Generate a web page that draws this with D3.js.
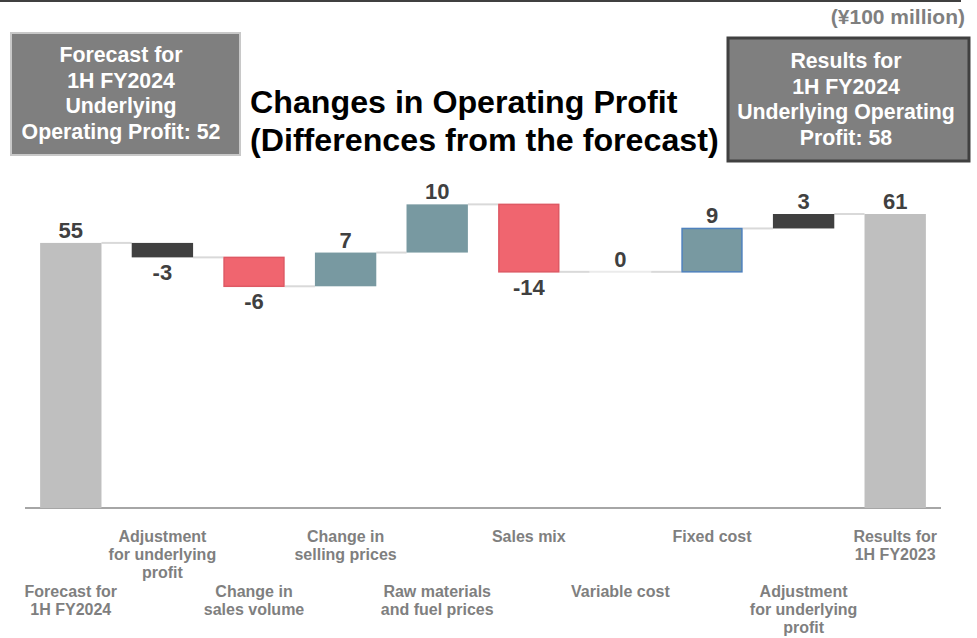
<!DOCTYPE html>
<html>
<head>
<meta charset="utf-8">
<script src="https://cdn.jsdelivr.net/npm/d3@7"></script>
<style>
    body { margin: 0; background: #fff; }
    text { font-family: "Liberation Sans", Arial, sans-serif; font-weight: bold; }
</style>
</head>
<body>
<svg id="scene" width="977" height="638"></svg>
<script>
// Waterfall data (¥100 million)
const categories = [
    ["Forecast for", "1H FY2024"],
    ["Adjustment", "for underlying", "profit"],
    ["Change in", "sales volume"],
    ["Change in", "selling prices"],
    ["Raw materials", "and fuel prices"],
    ["Sales mix"],
    ["Variable cost"],
    ["Fixed cost"],
    ["Adjustment", "for underlying", "profit"],
    ["Results for", "1H FY2023"]
];
const values = [55, -3, -6, 7, 10, -14, 0, 9, 3, 61];
const kinds = ["total", "adjust", "down", "up", "up", "down", "up", "upOutlined", "adjust", "total"];

const leftBoxLines = ["Forecast for", "1H FY2024", "Underlying", "Operating Profit: 52"];
const rightBoxLines = ["Results for", "1H FY2024", "Underlying Operating", "Profit: 58"];
const titleLines = ["Changes in Operating Profit", "(Differences from the forecast)"];
const unitLabel = "(¥100 million)";

const fills = { total: "#bfbfbf", adjust: "#404040", down: "#f0656f", up: "#7899a1", upOutlined: "#7899a1" };
const strokes = { total: "none", adjust: "none", down: "#de5964", up: "none", upOutlined: "#4f81bd" };

const svg = d3.select("#scene");

// build the running totals
let run = 0;
const bars = values.map((v, i) => {
    let d;
    if (kinds[i] === "total") {
        d = { i: i, y0: 0, y1: v, end: v };
        run = v;
    } else {
        d = { i: i, y0: run, y1: run + v, end: run + v };
        run += v;
    }
    d.value = v;
    d.kind = kinds[i];
    return d;
});

const x = d3.scaleBand()
    .domain(d3.range(values.length))
    .range([25, 941])
    .paddingInner(0.33)
    .paddingOuter(0.165);

const y = d3.scaleLinear().domain([0, 61]).range([508, 214]);

// top rule
svg.append("line")
    .attr("x1", 0).attr("x2", 961)
    .attr("y1", 1).attr("y2", 1)
    .style("stroke", "#404040").style("stroke-width", 2);

// unit
svg.append("text")
    .attr("x", 965).attr("y", 24)
    .attr("text-anchor", "end")
    .style("font-size", "21px")
    .style("fill", "#7f7f7f")
    .text(unitLabel);

// side boxes
function drawBox(x0, y0, w, h, stroke, sw, lines, cx, base) {
    svg.append("rect")
        .attr("x", x0).attr("y", y0).attr("width", w).attr("height", h)
        .style("fill", "#7f7f7f").style("stroke", stroke).style("stroke-width", sw);
    svg.append("g").selectAll("text")
        .data(lines)
        .enter()
        .append("text")
        .attr("x", cx)
        .attr("y", (d, i) => base + i * 25.5)
        .attr("text-anchor", "middle")
        .style("font-size", "21.3px")
        .style("fill", "#ffffff")
        .text((d) => d);
}
drawBox(11, 33, 229, 122, "#c8c8c8", 2, leftBoxLines, 121, 62);
drawBox(728, 38, 241, 123, "#404040", 3, rightBoxLines, 846, 68);

// title
svg.append("g").selectAll("text")
    .data(titleLines)
    .enter()
    .append("text")
    .attr("x", 250)
    .attr("y", (d, i) => 113 + i * 38)
    .style("font-size", "32.2px")
    .style("fill", "#000")
    .text((d) => d);

// connectors
const conn = svg.append("g");
bars.slice(0, -1).forEach((d, i) => {
    conn.append("line")
        .attr("x1", x(i) + x.bandwidth())
        .attr("x2", x(i + 1))
        .attr("y1", y(d.end))
        .attr("y2", y(d.end))
        .style("stroke", "#d9d9d9")
        .style("stroke-width", 2);
});

// axis line
svg.append("line")
    .attr("x1", 25).attr("x2", 941)
    .attr("y1", y(0)).attr("y2", y(0))
    .style("stroke", "#a6a6a6").style("stroke-width", 2);

// bars
svg.append("g").selectAll("rect")
    .data(bars.filter((d) => d.value !== 0))
    .enter()
    .append("rect")
    .attr("x", (d) => x(d.i) + (strokes[d.kind] === "none" ? 0 : 0.75))
    .attr("width", (d) => x.bandwidth() - (strokes[d.kind] === "none" ? 0 : 1.5))
    .attr("y", (d) => y(Math.max(d.y0, d.y1)))
    .attr("height", (d) => Math.abs(y(d.y0) - y(d.y1)))
    .style("fill", (d) => fills[d.kind])
    .style("stroke", (d) => strokes[d.kind])
    .style("stroke-width", 1.5);

// zero-change bars collapse to a faint line
svg.append("g").selectAll("line")
    .data(bars.filter((d) => d.value === 0))
    .enter()
    .append("line")
    .attr("x1", (d) => x(d.i))
    .attr("x2", (d) => x(d.i) + x.bandwidth())
    .attr("y1", (d) => y(d.end))
    .attr("y2", (d) => y(d.end))
    .style("stroke", "#ebebeb")
    .style("stroke-width", 2);

// value labels
svg.append("g").selectAll("text")
    .data(bars)
    .enter()
    .append("text")
    .attr("x", (d) => x(d.i) + x.bandwidth() / 2)
    .attr("y", (d) => d.value < 0 ? y(Math.min(d.y0, d.y1)) + 23 : y(Math.max(d.y0, d.y1)) - 5)
    .attr("text-anchor", "middle")
    .style("font-size", "22px")
    .style("fill", "#404040")
    .text((d) => d.value);

// category labels, staggered in two rows
const cats = svg.append("g");
categories.forEach((lines, i) => {
    const base = i % 2 === 0 ? 597 : 542;
    cats.append("text")
        .attr("text-anchor", "middle")
        .style("font-size", "16px")
        .style("fill", "#7f7f7f")
        .selectAll("tspan")
        .data(lines)
        .enter()
        .append("tspan")
        .attr("x", x(i) + x.bandwidth() / 2)
        .attr("y", (d, k) => base + k * 18)
        .text((d) => d);
});
</script>
</body>
</html>
